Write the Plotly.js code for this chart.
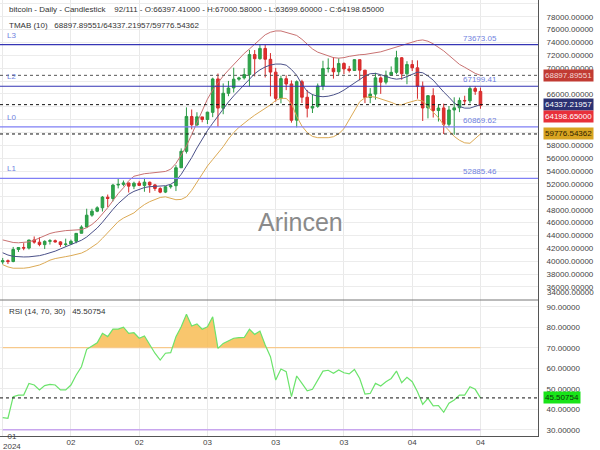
<!DOCTYPE html>
<html><head><meta charset="utf-8">
<script src="https://cdn.plot.ly/plotly-3.0.1.min.js"></script>
<style>html,body{margin:0;padding:0;background:#fff}#chart{width:600px;height:450px}</style>
</head><body><div id="chart"></div>
<script>
// ---- data (Jan 24 2024 .. Apr 24 2024, daily) ----
const tickIdx = [0,13,26,39,52,65,78,91];
const tickLabels = ["","02","02","03","03","03","04","04"];
const firstTickLabel = "01<br>2024";

const open = [39877,40075,39937,41815,42127,42031,43300,42946,42569,43078,43184,42994,42577,42658,43090,44333,45297,47153,47768,48297,49941,49733,51836,51937,52161,51661,52134,51777,52273,51855,51283,50736,51566,51730,54520,57071,62499,61169,62432,62031,63138,68341,63776,66099,66938,68299,68500,69020,72125,71482,73079,71387,69392,65316,68371,67556,61930,67911,65489,63802,64070,67234,69931,69991,69452,70745,69893,69647,71333,69705,65446,65975,68500,67840,68897,69362,71632,69140,70575,70062,67189,63836,65739,63419,63831,61275,63510,63851,64993,64935,66839,66397.41];
const high = [40498,40254,42209,42195,42797,43305,43838,43718,43243,43422,43359,43099,43494,43344,44341,45575,48152,48146,48536,50119,50358,52021,52821,52537,52192,52357,52483,52945,52372,52009,51497,51685,51954,54938,57537,63913,63585,63156,62434,63231,68537,69170,67637,68029,70083,68674,70006,72850,72826,73637,73750,72358,70046,68845,68897,68107,68115,68199,66623,65976,67624,71163,71535,71727,71552,70914,70356,71377,71342,69709,66914,69291,68725,69629,70284,72715,71743,71094,71256,71222,67931,65824,66878,64355,64486,64125,65481,65443,65723,67233,67199,67000.58];
const low = [39508,39550,39825,41431,41696,41818,42711,42314,41880,42585,42891,42222,42265,42565,42776,44333,45260,46905,47617,47714,48406,49296,51315,51642,50669,51200,51711,50792,50626,50926,50561,50585,51280,50901,54484,56738,60498,61057,61598,61320,62386,60900,62848,65655,66230,68053,68240,67194,68728,71334,68563,65630,64801,64545,66594,61536,60807,64581,62355,63038,63844,66600,69336,68382,68903,69076,69339,69624,68110,64586,64559,65113,66011,67491,68852,69064,68213,67519,69571,65254,61800,62205,62333,61716,59768,60833,59651,63172,64278,64548,65865,63699.60];
const close = [40077,39933,41816,42120,42035,43288,42952,42582,43075,43185,42992,42584,42658,43084,44318,45301,47147,47771,48293,49958,49743,51826,51938,52160,51663,52123,51779,52284,51839,51304,50731,51571,51733,54522,57085,62504,61198,62440,62029,63167,68330,63801,66106,66925,68300,68498,69019,72123,71481,73084,71397,69403,65316,68391,67548,61912,67913,65491,63778,64063,67234,69959,69987,69455,70744,69892,69645,71333,69703,65446,65981,68508,67837,68896,69362,71631,69139,70587,70060,67195,63821,65738,63426,63811,61276,63512,63843,64994,64926,66838,66408,64198.65];

const tmaMid = [41300,40950,40750,40680,40650,40670,40720,40850,41050,41250,41550,41900,42250,42600,42950,43250,43750,44450,45150,46050,47100,48050,48950,49750,50400,50850,51200,51450,51580,51650,51700,51730,51950,52500,53500,54700,56100,57600,59000,60300,61450,62600,63700,64750,65700,66600,67500,68400,69150,69750,70200,70500,70650,70650,70480,69800,68900,67500,66400,65900,65650,65570,65650,65850,66150,66600,67150,67650,68250,68800,69150,69200,69000,68700,68450,68300,68400,68700,69100,69400,69300,68800,68150,67200,66300,65500,64600,64050,63800,63800,64050,64337.22];
const tmaUp = [43300,43050,42900,42850,42900,43000,43250,43600,44000,44300,44500,44650,44750,44800,44850,44900,45200,45700,46400,47300,48300,49400,50500,51400,52500,53200,53450,53600,53680,53750,53850,53950,54300,55200,56500,57900,59700,61600,63500,65200,66600,67800,68800,69700,70600,71500,72300,73000,73700,74400,75200,75600,75800,75800,75600,75400,75100,74500,73700,73000,72500,72200,71900,71650,71570,71650,71850,72000,72100,72150,72250,72350,72550,72800,73050,73300,73600,73850,74100,74300,74400,74200,73800,73300,72700,72000,71300,70600,70150,69700,69200,68897.90];
const tmaLow = [39450,39100,38900,38870,38900,39000,39150,39400,39750,40150,40400,40600,40700,40850,41050,41250,41650,42200,42750,43550,44450,45350,46150,46700,47050,47500,48200,48800,49250,49600,49900,50000,49800,49550,49600,50000,51000,52300,53600,54800,55800,56800,57800,59000,60000,60800,61500,62100,62700,63200,63700,64300,65000,65330,65300,64500,62500,61000,60000,59400,59200,59150,59200,59350,59800,60600,62000,63600,64800,65400,65600,65500,65250,65060,64700,64350,64300,64600,64850,65060,64900,64000,63250,62300,61200,60300,59400,58800,58400,58330,59000,59776.54];

const rsi = [35.9,35.6,46.1,46.9,46.9,52.6,51.8,49.4,51.5,52.1,51.8,49.4,49.4,51.8,56.7,60.7,69.2,70.8,72.4,77.0,75.4,79.1,79.1,80.0,77.0,77.3,74.6,75.7,71.3,67.3,64.0,67.3,67.6,75.4,80.2,86.3,80.6,81.6,79.0,80.2,85.1,69.7,72.1,73.3,74.6,74.9,75.0,79.0,76.5,78.1,71.3,65.6,54.2,59.6,58.3,46.1,56.2,52.6,49.0,49.7,54.2,58.6,59.0,57.5,59.1,57.8,57.2,59.4,55.0,47.4,47.7,52.6,51.3,53.4,55.0,58.6,52.9,55.6,53.4,48.5,42.4,45.3,41.6,41.8,38.5,42.9,44.5,46.9,46.9,51.0,49.7,45.50754];

const levelNames = ["L3","L2","L0","L1"];
const levelValues = [73673.05,67199.41,60869.62,52885.46];
const levelColors = ["#3535b5","#3535b5","#7f7ff5","#7f7ff5"];
const tmaLast = [68897.89551,64337.21957,59776.54362];
const lastClose = 64198.65;
const rsiLast = 45.50754;
const rsiUpper = 70, rsiLower = 30;
const priceTicks = [36000,38000,40000,42000,44000,46000,48000,50000,52000,54000,56000,58000,60000,62000,64000,66000,68000,70000,72000,74000,76000,78000,80000];
const hiddenPriceTicks = [60000,62000,64000,68000]; // covered by the value boxes in the reference
const rsiTicks = [30,40,50,60,70,80,90];

// ---- layout constants ----
const W = 600, H = 450, B = 14;
const PH = H - B;
const split = 300;
const dSplit = (PH - split) / PH;
const xr = 538 / W;
const idx = close.map((_, i) => i);
const FONT = "Liberation Sans, Arial, sans-serif";
const py = px => 1 - px / PH;

const fx = [], fy = [];
for (let i = 0; i < rsi.length; i++) {
  if (i > 0) {
    const a = rsi[i-1] - rsiUpper, b = rsi[i] - rsiUpper;
    if ((a > 0 && b < 0) || (a < 0 && b > 0)) { const t = a / (a - b); fx.push(i - 1 + t); fy.push(rsiUpper); }
  }
  fx.push(i); fy.push(Math.max(rsi[i], rsiUpper));
}

const traces = [
  {type:'candlestick', x: idx, open, high, low, close, xaxis:'x', yaxis:'y',
   increasing:{line:{color:'#2a9a46', width:1}, fillcolor:'#2ea84a'},
   decreasing:{line:{color:'#d52a2a', width:1}, fillcolor:'#e0302f'},
   whiskerwidth:0, hoverinfo:'skip'},
  {type:'scatter', mode:'lines', x: idx, y: tmaUp, line:{color:'#c97272', width:1}, yaxis:'y'},
  {type:'scatter', mode:'lines', x: idx, y: tmaMid, line:{color:'#4b5189', width:1}, yaxis:'y'},
  {type:'scatter', mode:'lines', x: idx, y: tmaLow, line:{color:'#dcaa55', width:1}, yaxis:'y'},
  {type:'scatter', mode:'lines', x:[idx[0], idx[idx.length-1]], y:[rsiUpper, rsiUpper], line:{color:'#f7c98c', width:1.2}, xaxis:'x', yaxis:'y2'},
  {type:'scatter', mode:'lines', x: fx, y: fy, fill:'tonexty', fillcolor:'rgba(247,184,72,0.8)', line:{width:0}, xaxis:'x', yaxis:'y2'},
  {type:'scatter', mode:'lines', x:[idx[0], idx[idx.length-1]], y:[rsiLower, rsiLower], line:{color:'#c8a6ee', width:1.5}, xaxis:'x', yaxis:'y2'},
  {type:'scatter', mode:'lines', x: idx, y: rsi, line:{color:'#6be36b', width:1.2}, xaxis:'x', yaxis:'y2'}
];

const shapes = [];
levelValues.forEach((v, k) => shapes.push({type:'line', xref:'paper', x0:0, x1:xr, yref:'y', y0:v, y1:v, line:{color:levelColors[k], width:1.2}}));
const dashCols = ['#555555','#111111','#111111'];
tmaLast.forEach((v, k) => shapes.push({type:'line', xref:'paper', x0:0, x1:xr, yref:'y', y0:v, y1:v, line:{color:dashCols[k], width:1, dash:'3px,3px'}}));
shapes.push({type:'line', xref:'paper', x0:0, x1:xr, yref:'y2', y0:rsiLast, y1:rsiLast, line:{color:'#111', width:1, dash:'3px,3px'}});
shapes.push({type:'line', xref:'paper', x0:0, x1:xr, yref:'paper', y0:dSplit, y1:dSplit, line:{color:'#777', width:1}});

const ann = [];
const txt = (text, x, y, opts={}) => ann.push(Object.assign({text, xref:'paper', yref:'paper', x, y, showarrow:false, xanchor:'left', yanchor:'middle', font:{family:FONT, size:8, color:'#333'}}, opts));
const nb = s => s.replace(/ /g, '\u00a0');
txt(nb("bitcoin - Daily - Candlestick    92/111 - O:66397.41000 - H:67000.58000 - L:63699.60000 - C:64198.65000"), 7/W, py(10));
txt(nb("TMAB (10)   " + tmaLast.map(v => v.toFixed(5)).join('/')), 7/W, py(26));
txt(nb("RSI (14, 70, 30)   " + rsiLast.toFixed(5)), 7/W, py(311));
txt("Arincen", 0.5, py(222), {xanchor:'center', font:{family:FONT, size:25, color:'#8a8a8a'}});
txt("34000.00000", 545/W, py(292), {font:{family:FONT, size:8, color:'#444'}});
txt(firstTickLabel, 11.5/W, py(431), {xanchor:'center', yanchor:'top', borderpad:0, font:{family:FONT, size:8, color:'#444'}});
levelValues.forEach((v, k) => {
  ann.push({text:levelNames[k], xref:'paper', x:5/W, yref:'y', y:v, yanchor:'bottom', xanchor:'left', yshift:3, showarrow:false, font:{family:FONT, size:8, color:'#6f7fe0'}});
  ann.push({text:v.toFixed(2), xref:'paper', x:499/W, yref:'y', y:v, yanchor:'bottom', xanchor:'right', yshift:0, showarrow:false, font:{family:FONT, size:8, color:'#6f7fe0'}});
});
const boxes = [
  {v:tmaLast[0], bg:'#c13b33', fc:'#f3d6d4', ya:'y', sh:0},
  {v:tmaLast[1], bg:'#2b3172', fc:'#ffffff', ya:'y', sh:0},
  {v:lastClose, bg:'#e8303a', fc:'#ffffff', ya:'y', sh:-10.5},
  {v:tmaLast[2], bg:'#d8a421', fc:'#2e2200', ya:'y', sh:0},
  {v:rsiLast, bg:'#18e418', fc:'#0f2e0f', ya:'y2', sh:0}
];
boxes.forEach(b => ann.push({text:b.v.toFixed(5), xref:'paper', x:543/W, yref:b.ya, y:b.v, yshift:b.sh, xanchor:'left', yanchor:'middle', showarrow:false, bgcolor:b.bg, borderpad:1, font:{family:FONT, size:8, color:b.fc}}));

const layout = {
  width:W, height:H, margin:{l:0, r:0, t:0, b:B}, paper_bgcolor:'#fff', plot_bgcolor:'#fff', showlegend:false,
  font:{family:FONT, size:8, color:'#444'},
  xaxis:{domain:[0, xr], range:[-0.514, 101.96], anchor:'y2', tickvals:tickIdx, ticktext:tickLabels,
         showgrid:true, gridcolor:'#e9e9e9', gridwidth:1, zeroline:false, showline:true, linecolor:'#555', linewidth:1,
         ticks:'', ticklabelstandoff:-2, tickfont:{family:FONT, size:8, color:'#444'}, rangeslider:{visible:false}, fixedrange:true},
  yaxis:{domain:[dSplit, 1], range:[33956, 80613], side:'right', tickvals:priceTicks,
         ticktext:priceTicks.map(v => hiddenPriceTicks.includes(v) ? '' : v.toFixed(5)),
         showgrid:true, gridcolor:'#ececec', zeroline:false, showline:true, linecolor:'#555', linewidth:1, anchor:'x',
         ticks:'', ticklabelstandoff:6, tickfont:{family:FONT, size:8, color:'#444'}},
  yaxis2:{domain:[0, dSplit], range:[26.93, 93.27], side:'right', tickvals:rsiTicks, tickformat:'.5f',
          showgrid:true, gridcolor:'#ececec', zeroline:false, showline:true, linecolor:'#555', linewidth:1, anchor:'x',
          ticks:'', ticklabelstandoff:6, tickfont:{family:FONT, size:8, color:'#444'}},
  shapes, annotations:ann, hovermode:false
};
Plotly.newPlot('chart', traces, layout, {staticPlot:true, displayModeBar:false});
</script></body></html>
